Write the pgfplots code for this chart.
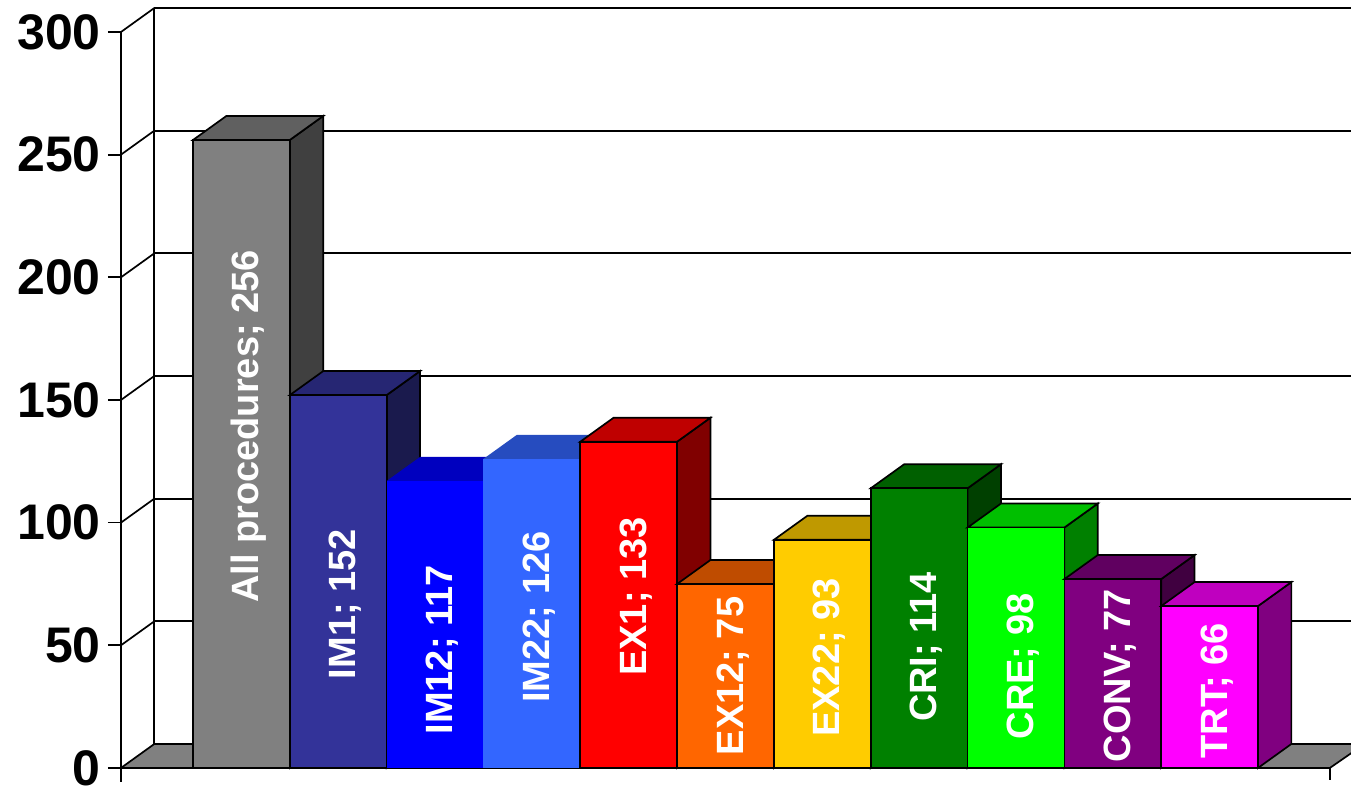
\documentclass[border=0pt]{standalone}
\usepackage{fontspec}
\setmainfont{Liberation Sans}
\usepackage{pgfplots}
\pgfplotsset{compat=1.18}

\definecolor{c0f}{HTML}{808080}\definecolor{c0t}{HTML}{606060}\definecolor{c0s}{HTML}{404040}
\definecolor{c1f}{HTML}{333399}\definecolor{c1t}{HTML}{262673}\definecolor{c1s}{HTML}{1A1A4D}
\definecolor{c2f}{HTML}{0000FF}\definecolor{c2t}{HTML}{0000BF}\definecolor{c2s}{HTML}{000080}
\definecolor{c3f}{HTML}{3366FF}\definecolor{c3t}{HTML}{264CBF}\definecolor{c3s}{HTML}{1A3380}
\definecolor{c4f}{HTML}{FF0000}\definecolor{c4t}{HTML}{BF0000}\definecolor{c4s}{HTML}{800000}
\definecolor{c5f}{HTML}{FF6600}\definecolor{c5t}{HTML}{BF4C00}\definecolor{c5s}{HTML}{803300}
\definecolor{c6f}{HTML}{FFCC00}\definecolor{c6t}{HTML}{BF9900}\definecolor{c6s}{HTML}{806600}
\definecolor{c7f}{HTML}{008000}\definecolor{c7t}{HTML}{006000}\definecolor{c7s}{HTML}{004000}
\definecolor{c8f}{HTML}{00FF00}\definecolor{c8t}{HTML}{00BF00}\definecolor{c8s}{HTML}{008000}
\definecolor{c9f}{HTML}{800080}\definecolor{c9t}{HTML}{600060}\definecolor{c9s}{HTML}{400040}
\definecolor{c10f}{HTML}{FF00FF}\definecolor{c10t}{HTML}{BF00BF}\definecolor{c10s}{HTML}{800080}
\definecolor{floorgray}{HTML}{808080}

\newcommand{\ddx}{0.3446}
\newcommand{\ddy}{9.78}
\tikzset{barlabel/.style={anchor=base, rotate=90, text=white,
  font=\fontsize{38}{46}\selectfont\bfseries, inner sep=0pt}}

% #1 index, #2 value, #3 front, #4 top, #5 side, #6 label position, #7 label, #8 edge colour
\newcommand{\tdbar}[8]{%
  \pgfmathsetmacro\xl{#1-0.5}%
  \pgfmathsetmacro\xr{#1+0.5}%
  \pgfmathsetmacro\xlb{#1-0.5+\ddx}%
  \pgfmathsetmacro\xrb{#1+0.5+\ddx}%
  \pgfmathsetmacro\yt{#2+\ddy}%
  \pgfmathsetmacro\lx{#1+0.181}%
  \edef\tmp{%
    \noexpand\addplot[fill=#5, draw=#8, line width=1.7pt] coordinates {(\xr,0) (\xrb,\ddy) (\xrb,\yt) (\xr,#2)} -- cycle;
    \noexpand\addplot[fill=#4, draw=#8, line width=1.7pt] coordinates {(\xl,#2) (\xr,#2) (\xrb,\yt) (\xlb,\yt)} -- cycle;
    \noexpand\addplot[fill=#3, draw=#8, line width=1.7pt] coordinates {(\xl,0) (\xr,0) (\xr,#2) (\xl,#2)} -- cycle;
    \noexpand\node[barlabel] at (axis cs:\lx,#6) {#7};
  }%
  \tmp
}

\begin{document}
\begin{tikzpicture}
\begin{axis}[
  x=96.82pt, y=2.4533pt,
  xmin=-1.2446, xmax=11.242, ymin=0, ymax=300,
  axis lines*=left,
  axis line style={line width=1.7pt, black},
  xtick=\empty,
  ytick={0,50,...,300},
  tick align=outside,
  major tick length=13pt,
  ytick style={line width=1.7pt, black},
  yticklabel style={font=\fontsize{50}{60}\selectfont\bfseries, inner sep=0pt, xshift=-7pt},
  /pgf/number format/assume math mode=true,
  clip=false,
  no markers,
]
% back wall grid lines
\addplot[black, line width=1.7pt] coordinates {(-0.9,309.78) (11.7,309.78)};
\addplot[black, line width=1.7pt] coordinates {(-0.9,259.78) (11.7,259.78)};
\addplot[black, line width=1.7pt] coordinates {(-0.9,209.78) (11.7,209.78)};
\addplot[black, line width=1.7pt] coordinates {(-0.9,159.78) (11.7,159.78)};
\addplot[black, line width=1.7pt] coordinates {(-0.9,109.78) (11.7,109.78)};
\addplot[black, line width=1.7pt] coordinates {(-0.9,59.78) (11.7,59.78)};
\addplot[black, line width=1.7pt] coordinates {(-0.9,9.78) (-0.9,309.78)};
% side wall diagonals
\addplot[black, line width=1.7pt] coordinates {(-1.2446,300) (-0.9,309.78)};
\addplot[black, line width=1.7pt] coordinates {(-1.2446,250) (-0.9,259.78)};
\addplot[black, line width=1.7pt] coordinates {(-1.2446,200) (-0.9,209.78)};
\addplot[black, line width=1.7pt] coordinates {(-1.2446,150) (-0.9,159.78)};
\addplot[black, line width=1.7pt] coordinates {(-1.2446,100) (-0.9,109.78)};
\addplot[black, line width=1.7pt] coordinates {(-1.2446,50) (-0.9,59.78)};
% floor
\addplot[fill=floorgray, draw=black, line width=1.7pt] coordinates {(-1.2446,0) (-0.9,9.78) (11.6,9.78) (11.242,0)} -- cycle;
% axis extensions below zero
\addplot[black, line width=1.7pt] coordinates {(-1.2446,0) (-1.2446,-5.7)};
\addplot[black, line width=1.7pt] coordinates {(11.242,0) (11.242,-5)};

% bars: index, value, colours, label position, label
\tdbar{0}{256}{c0f}{c0t}{c0s}{139.2}{All procedures; 256}{black}
\tdbar{1}{152}{c1f}{c1t}{c1s}{66.8}{IM1; 152}{black}
\tdbar{2}{117}{c2f}{c2t}{c2s}{48.1}{IM12; 117}{none}
\tdbar{3}{126}{c3f}{c3t}{c3s}{61.5}{IM22; 126}{none}
\tdbar{4}{133}{c4f}{c4t}{c4s}{69.9}{EX1; 133}{black}
\tdbar{5}{75}{c5f}{c5t}{c5s}{37.5}{EX12; 75}{black}
\tdbar{6}{93}{c6f}{c6t}{c6s}{45.0}{EX22; 93}{black}
\tdbar{7}{114}{c7f}{c7t}{c7s}{49.3}{CRI; 114}{black}
\tdbar{8}{98}{c8f}{c8t}{c8s}{41.4}{CRE; 98}{black}
\tdbar{9}{77}{c9f}{c9t}{c9s}{37.7}{CONV; 77}{black}
\tdbar{10}{66}{c10f}{c10t}{c10s}{31.4}{TRT; 66}{black}

\coordinate (bbl) at (axis cs:-2.494,-7.337);
\coordinate (btr) at (axis cs:11.4605,313.05);
\end{axis}
\pgfresetboundingbox
\useasboundingbox (bbl) rectangle (btr);
\end{tikzpicture}
\end{document}
